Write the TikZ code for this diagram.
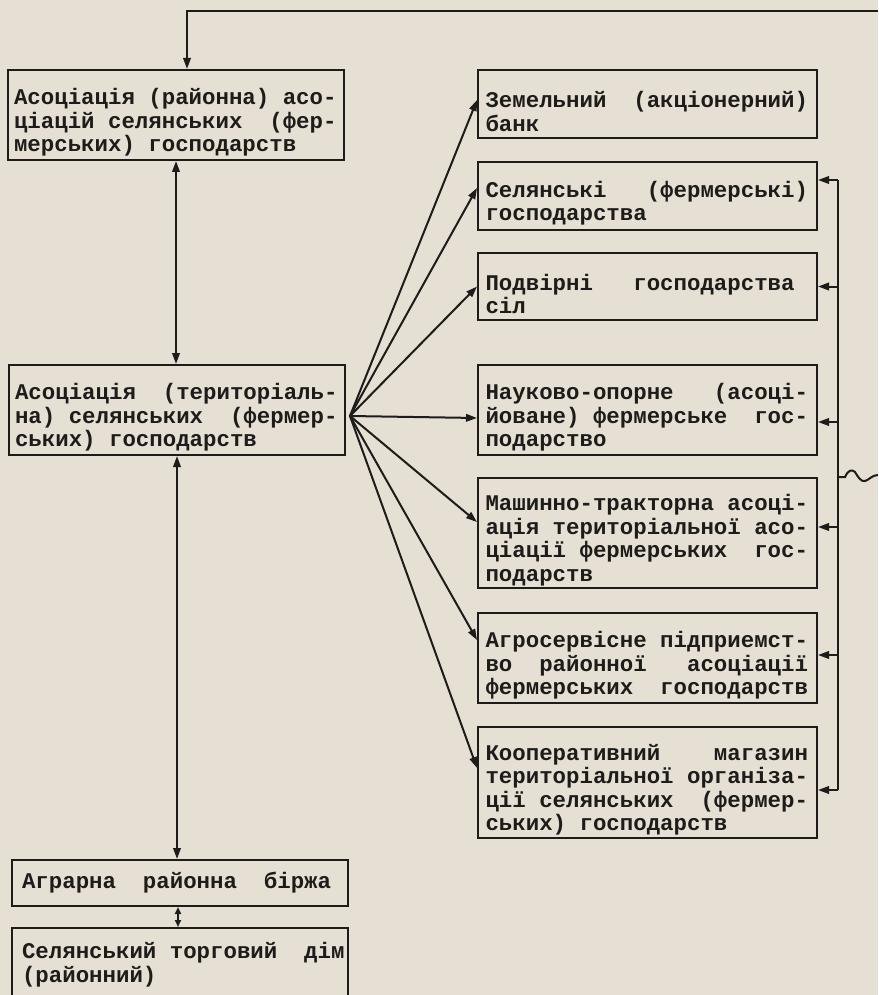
\documentclass[tikz,border=0pt]{standalone}
\usepackage{fontspec}
\usetikzlibrary{arrows.meta,calc}
\newfontfamily\typewr{Liberation Mono}
\definecolor{paper}{RGB}{229,224,211}
\definecolor{ink}{RGB}{30,28,26}
\newcommand\fixsp{\spaceskip=\fontdimen2\font\xspaceskip=\fontdimen2\font\relax}
\newcommand\topstrut{\rule{0pt}{31pt}}
\begin{document}
\begin{tikzpicture}[x=1pt,y=-1pt,
  box/.style={draw=ink, line width=2pt, text=ink,
    font=\typewr\bfseries\fontsize{22.4}{23.5}\selectfont,
    text width=324pt, align=left, inner xsep=0pt, inner ysep=0pt,
    execute at begin node=\fixsp},
  sbox/.style={box, execute at begin node=\fixsp\topstrut},
  lbox/.style={sbox, minimum width=336pt},
  rbox/.style={sbox, minimum width=339pt},
  conn/.style={draw=ink, line width=2pt},
  tip/.style={-{Triangle[length=11pt,width=7.5pt]}},
  tips/.style={{Triangle[length=11pt,width=7.5pt]}-{Triangle[length=11pt,width=7.5pt]}},
  stips/.style={{Triangle[length=7pt,width=6pt]}-{Triangle[length=7pt,width=6pt]}}]
\useasboundingbox (0,0) rectangle (878,995);
\clip (0,0) rectangle (878,995);
\fill[paper] (0,0) rectangle (878,995);

% left column
\node[lbox, minimum height=90pt] (A) at (176,115)
  {Асоціація (районна) асо-\\ціацій селянських~~(фер-\\мерських) господарств};
\node[lbox, minimum height=90pt] (B) at (177,410)
  {Асоціація~~(територіаль-\\на) селянських~~(фермер-\\ських) господарств};
\node[box, text width=330pt, minimum width=336pt, minimum height=46pt] (C) at (180,883)
  {\hspace*{7pt}Аграрна~~районна~~біржа};
\node[box, text width=330pt, minimum width=336pt, minimum height=73pt] (D) at (180,964.5)
  {\hspace*{7pt}Селянський торговий~~дім\\\hspace*{7pt}(районний)};

% right column
\node[rbox, minimum height=68pt] (R1) at (647.5,104)
  {Земельний~~(акціонерний)\\банк};
\node[rbox, minimum height=68pt] (R2) at (647.5,196)
  {Селянські~~~(фермерські)\\господарства};
\node[rbox, minimum height=67pt] (R3) at (647.5,286.5)
  {Подвірні~~~господарства\\сіл};
\node[rbox, minimum height=90pt] (R4) at (647.5,410)
  {Науково-опорне~~~(асоці-\\йоване) фермерське~~гос-\\подарство};
\node[rbox, minimum height=110pt] (R5) at (647.5,533)
  {Машинно-тракторна асоці-\\ація територіальної асо-\\ціації фермерських~~гос-\\подарств};
\node[rbox, minimum height=90pt] (R6) at (647.5,658)
  {Агросервісне підприемст-\\во~~районної~~~асоціації\\фермерських~~господарств};
\node[rbox, minimum height=111pt] (R7) at (647.5,782.5)
  {Кооперативний~~~~магазин\\територіальної організа-\\ції селянських~~(фермер-\\ських) господарств};

% vertical links on the left
\draw[conn,tips] (A.south) -- (A.south |- B.north);
\draw[conn,tips] (B.south) -- (B.south |- C.north);
\draw[conn,stips] ([xshift=-2pt]C.south) -- ([xshift=-2pt]C.south |- D.north);

% top line leaving the picture
\coordinate (topend) at (878,11);
\draw[conn,tip] (topend) -| ([xshift=11pt]A.north);

% fan from B to the right column
\coordinate (fan) at (350,416);
\draw[conn,tip] (fan) -- ([yshift=4pt]R1.west);
\draw[conn,tip] (fan) -- ([yshift=8pt]R2.west);
\draw[conn,tip] (fan) -- (R3.west);
\draw[conn,tip] (fan) -- ([yshift=-8pt]R4.west);
\draw[conn,tip] (fan) -- ([yshift=11pt]R5.west);
\draw[conn,tip] (fan) -- ([yshift=18pt]R6.west);
\draw[conn,tip] (fan) -- ([yshift=14.5pt]R7.west);

% bus on the right
\coordinate (bus) at (838,0);
\coordinate (s2) at ([yshift=16pt]R2.east);
\coordinate (s3) at (R3.east);
\coordinate (s4) at ([yshift=-12pt]R4.east);
\coordinate (s5) at ([yshift=6pt]R5.east);
\coordinate (s6) at ([yshift=3pt]R6.east);
\coordinate (s7) at ([yshift=-7.5pt]R7.east);
\draw[conn] (bus |- s2) -- (bus |- s7);
\foreach \s in {s2,s3,s4,s5,s6,s7} {\draw[conn,tip] (bus |- \s) -- (\s);}

% wavy line leaving the bus
\coordinate (wv) at (838,477);
\coordinate (wvend) at (878,475);
\draw[conn] (wv) -- (845,477) .. controls (848,470) and (852,469) .. (855,472)
  .. controls (858,477) and (861,482) .. (865,481)
  .. controls (869,480) and (872,475) .. (wvend);
\end{tikzpicture}
\end{document}
